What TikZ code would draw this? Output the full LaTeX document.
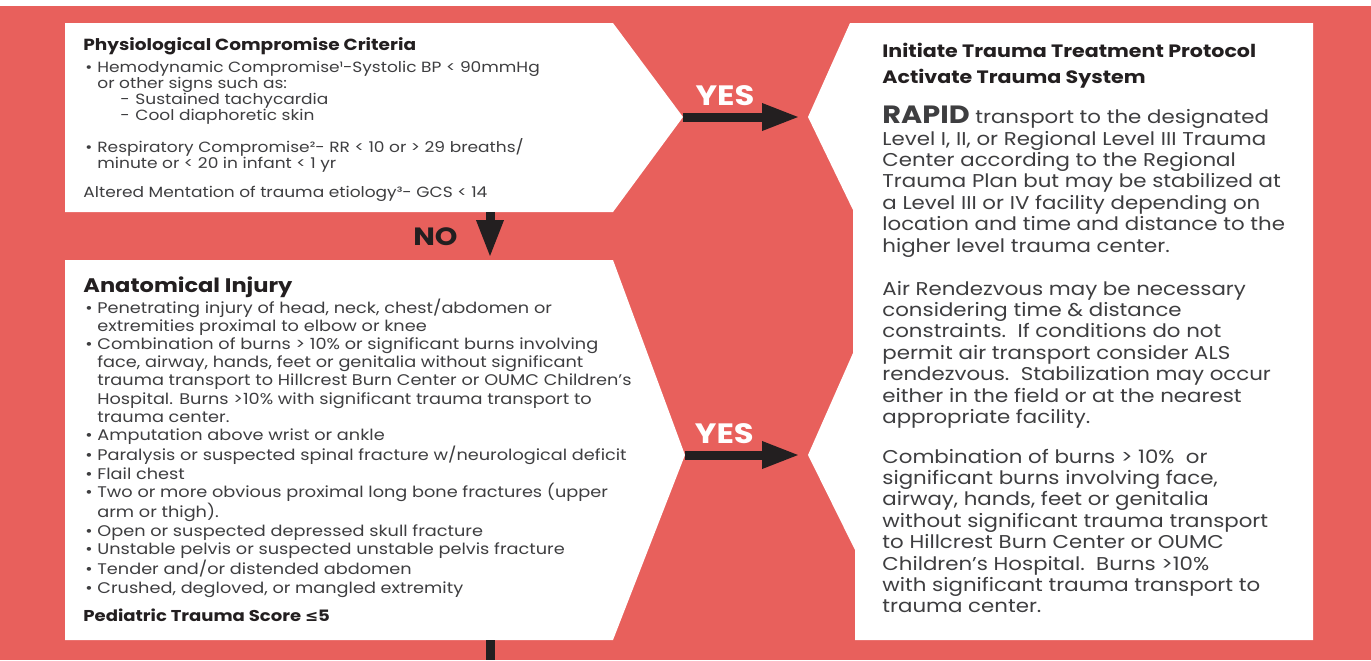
\documentclass[tikz,border=0pt]{standalone}
\usepackage{fontspec}
\setmainfont{Poppins}[FakeStretch=1.15]
\newfontfamily\symfont{DejaVu Sans}
\usetikzlibrary{arrows.meta, positioning}

\definecolor{cardred}{RGB}{232,96,92}
\definecolor{ink}{RGB}{35,31,32}
\definecolor{bodygrey}{RGB}{62,62,64}

\newcommand{\bul}{\hspace*{1pt}\makebox[6pt][l]{•}}
\newcommand{\ind}{\hspace*{7pt}}
\newcommand{\subind}{\hspace*{18.5pt}\makebox[7.5pt][l]{-}}

\begin{document}
\begin{tikzpicture}[
    x=0.5pt, y=-0.5pt,
    panel/.style={fill=white},
    ttl/.style={anchor=base west, inner sep=0pt, align=left, text=ink,
                font=\bfseries\fontsize{8.05}{12.75}\selectfont},
    body/.style={anchor=base west, inner sep=0pt, align=left, text=bodygrey},
    arr/.style={-{Triangle[length=19pt, width=12.5pt]}, line width=4.5pt, draw=ink},
    yeslbl/.style={text=white, inner sep=0pt, font=\bfseries\fontsize{14}{14}\selectfont},
    nolbl/.style={text=ink, inner sep=0pt, font=\bfseries\fontsize{12.5}{14}\selectfont},
]
    \useasboundingbox (0,0) rectangle (1371,660);
    \fill[white] (0,0) rectangle (1371,660);
    \fill[cardred] (0,6) rectangle (1371,660);

    % panels
    \fill[panel] (65,23) -- (613,23) -- (683,117) coordinate (phystip)
        -- (613,212) -- (65,212) -- cycle;
    \fill[panel] (65,260) -- (613,260) -- (685,455) coordinate (anattip)
        -- (613,640) -- (65,640) -- cycle;
    \fill[panel] (850,23) -- (1313,23) -- (1313,640) -- (855,640) -- (855,550)
        -- (808,455) coordinate (traumanotchb) -- (853,353) -- (853,210)
        -- (808,117) coordinate (traumanotcha) -- cycle;

    \coordinate (physbot) at (490,212);
    \coordinate (anattop) at (490,258);
    \coordinate (anatbot) at (490,640);
    \coordinate (pagebot) at (490,660);

    % physiological criteria
    \node[ttl] (physttl) at (83,50) {Physiological Compromise Criteria};
    \node[body, font=\fontsize{7.4}{8}\selectfont] (physlist) at (83,197)
        {\bul Hemodynamic Compromise¹-Systolic BP < 90mmHg\\
         \ind or other signs such as:\\
         \subind Sustained tachycardia\\
         \subind Cool diaphoretic skin\\[6pt]
         \bul Respiratory Compromise²- RR < 10 or > 29 breaths/\\
         \ind minute or < 20 in infant < 1 yr\\[6.5pt]
         Altered Mentation of trauma etiology³- GCS < 14};

    % anatomical injury
    \node[ttl, font=\bfseries\fontsize{9.8}{12}\selectfont] (anatttl) at (83,292) {Anatomical Injury};
    \node[body, font=\fontsize{7.7}{9.1}\selectfont] (anatlist) at (83,593)
        {\bul Penetrating injury of head, neck, chest/abdomen or\\
         \ind extremities proximal to elbow or knee\\
         \bul Combination of burns > 10\% or significant burns involving\\
         \ind face, airway, hands, feet or genitalia without significant\\
         \ind trauma transport to Hillcrest Burn Center or OUMC Children’s\\
         \ind Hospital. Burns >10\% with significant trauma transport to\\
         \ind trauma center.\\
         \bul Amputation above wrist or ankle\\
         \bul Paralysis or suspected spinal fracture w/neurological deficit\\
         \bul Flail chest\\
         \bul Two or more obvious proximal long bone fractures (upper\\
         \ind arm or thigh).\\
         \bul Open or suspected depressed skull fracture\\
         \bul Unstable pelvis or suspected unstable pelvis fracture\\
         \bul Tender and/or distended abdomen\\
         \bul Crushed, degloved, or mangled extremity};
    \node[ttl, font=\bfseries\fontsize{7.85}{12}\selectfont] (pedscore) at (83,621)
        {Pediatric Trauma Score {\symfont ≤}5};

    % trauma protocol
    \node[ttl, font=\bfseries\fontsize{8.95}{12.75}\selectfont] (traumattl) at (882,83)
        {Initiate Trauma Treatment Protocol\\Activate Trauma System};
    \node[body, font=\fontsize{9.27}{10.7}\selectfont] (traumabody) at (882,612.8)
        {{\bfseries\fontsize{12.5}{10.7}\selectfont RAPID} transport to the designated\\
         Level I, II, or Regional Level III Trauma\\
         Center according to the Regional\\
         Trauma Plan but may be stabilized at\\
         a Level III or IV facility depending on\\
         location and time and distance to the\\
         higher level trauma center.\\[10.8pt]
         Air Rendezvous may be necessary\\
         considering time \& distance\\
         constraints.\ \ If conditions do not\\
         permit air transport consider ALS\\
         rendezvous.\ \ Stabilization may occur\\
         either in the field or at the nearest\\
         appropriate facility.\\[9.1pt]
         Combination of burns > 10\%\ \ or\\
         significant burns involving face,\\
         airway, hands, feet or genitalia\\
         without significant trauma transport\\
         to Hillcrest Burn Center or OUMC\\
         Children’s Hospital.\ \ Burns >10\%\\
         with significant trauma transport to\\
         trauma center.};

    % connectors
    \draw[arr, shorten >=4pt] (phystip) -- node[yeslbl, pos=.336, anchor=base, yshift=6pt] (yesa) {YES} (traumanotcha);
    \draw[arr, shorten >=4pt] (anattip) -- node[yeslbl, pos=.32, anchor=base, yshift=6pt] (yesb) {YES} (traumanotchb);
    \draw[arr] (physbot) -- node[nolbl, pos=.54, left=14pt] (no) {NO} (anattop);
    \draw[ink, line width=4.5pt] (anatbot) -- (pagebot);
\end{tikzpicture}
\end{document}
